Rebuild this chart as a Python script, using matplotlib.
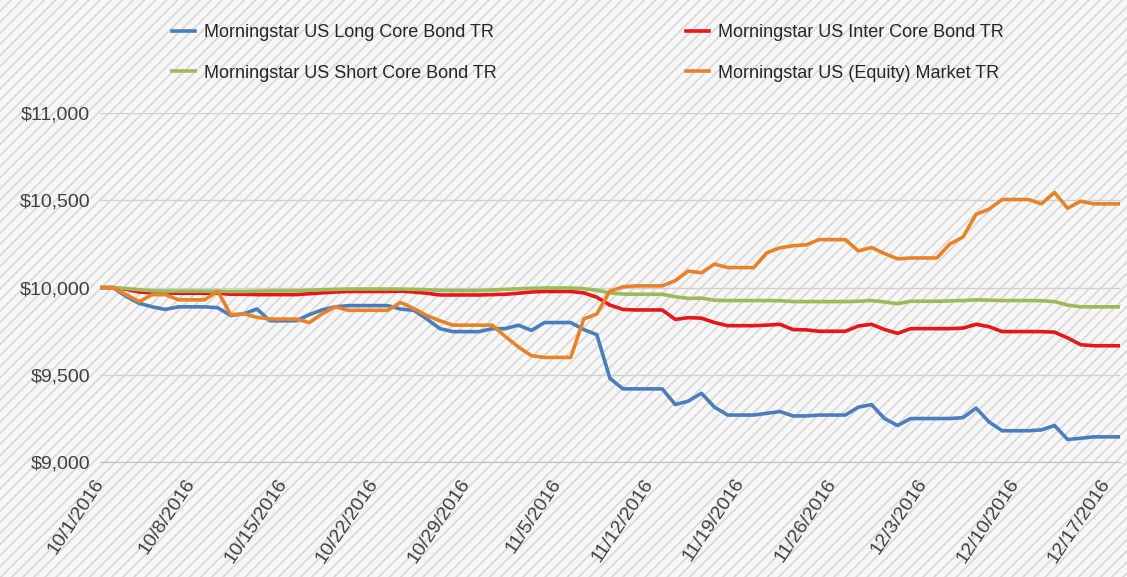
import matplotlib
matplotlib.use("Agg")
import matplotlib.pyplot as plt
from matplotlib.patches import Rectangle
from matplotlib.ticker import FuncFormatter
import pandas as pd

# daily values, 10/1/2016 .. 12/18/2016 (weekends carry Friday's value)
dates = pd.date_range("2016-10-01", "2016-12-18", freq="D")

long_core = [10000, 10000, 9950, 9910, 9890, 9875, 9890, 9890, 9890, 9885,
             9840, 9850, 9878, 9810, 9810, 9810, 9845, 9873, 9890, 9897,
             9897, 9897, 9897, 9877, 9870, 9820, 9765, 9748, 9748, 9748,
             9765, 9765, 9785, 9755, 9800, 9800, 9800, 9760, 9730, 9480,
             9420, 9420, 9420, 9420, 9330, 9350, 9395, 9315, 9270, 9270,
             9270, 9280, 9290, 9265, 9265, 9270, 9270, 9270, 9315, 9330,
             9250, 9210, 9250, 9250, 9250, 9250, 9255, 9310, 9230, 9180,
             9180, 9180, 9185, 9210, 9130, 9137, 9145, 9145, 9145]

inter_core = [10000, 10000, 9990, 9975, 9970, 9970, 9968, 9968, 9968, 9968,
              9962, 9962, 9960, 9960, 9960, 9960, 9965, 9970, 9975, 9978,
              9978, 9978, 9978, 9980, 9975, 9968, 9958, 9958, 9958, 9958,
              9960, 9962, 9968, 9975, 9978, 9978, 9978, 9970, 9945, 9900,
              9875, 9872, 9872, 9872, 9818, 9828, 9825, 9800, 9782, 9782,
              9782, 9785, 9790, 9760, 9758, 9750, 9750, 9750, 9780, 9790,
              9760, 9738, 9765, 9765, 9765, 9765, 9768, 9790, 9776, 9748,
              9748, 9748, 9748, 9745, 9712, 9673, 9667, 9667, 9667]

short_core = [10000, 10000, 9995, 9988, 9982, 9980, 9980, 9980, 9980, 9980,
              9978, 9978, 9980, 9982, 9982, 9982, 9985, 9988, 9990, 9992,
              9992, 9992, 9992, 9992, 9990, 9988, 9984, 9983, 9983, 9983,
              9986, 9990, 9993, 9996, 9998, 9998, 9998, 9994, 9985, 9970,
              9963, 9962, 9962, 9962, 9948, 9938, 9940, 9928, 9926, 9926,
              9926, 9926, 9925, 9920, 9920, 9920, 9920, 9920, 9922, 9926,
              9918, 9908, 9922, 9922, 9922, 9924, 9926, 9930, 9928, 9926,
              9926, 9926, 9925, 9920, 9900, 9890, 9890, 9890, 9890]

equity_market = [10000, 10000, 9960, 9920, 9960, 9960, 9930, 9930, 9930, 9980,
                 9845, 9850, 9830, 9820, 9820, 9820, 9800, 9850, 9890, 9870,
                 9870, 9870, 9870, 9915, 9880, 9840, 9810, 9785, 9785, 9785,
                 9785, 9720, 9660, 9610, 9600, 9600, 9600, 9820, 9850, 9980,
                 10005, 10010, 10010, 10010, 10040, 10095, 10085, 10135, 10115, 10115,
                 10115, 10200, 10228, 10240, 10245, 10275, 10275, 10275, 10210, 10230,
                 10195, 10165, 10170, 10170, 10170, 10250, 10290, 10420, 10450, 10505,
                 10505, 10505, 10480, 10545, 10455, 10495, 10480, 10480, 10480]

tick_dates = pd.date_range("2016-10-01", "2016-12-17", freq="7D")
tick_labels = [f"{d.month}/{d.day}/{d.year}" for d in tick_dates]

plt.rcParams['font.family'] = ['Liberation Sans', 'DejaVu Sans']
plt.rcParams['hatch.linewidth'] = 1.3

fig = plt.figure(figsize=(11.27, 5.77), dpi=100)
# striped background
fig.patches.append(Rectangle((0, 0), 1, 1, transform=fig.transFigure, zorder=-10,
                             facecolor='#F7F7F7', edgecolor='#D9D9D9', lw=0,
                             hatch='///'))
ax = fig.add_axes([0.0887, 0.199, 0.905, 0.605])
ax.set_facecolor('none')

lw = 2.6
l1, = ax.plot(dates, long_core, color='#4A7EBB', lw=lw, label='Morningstar US Long Core Bond TR')
l2, = ax.plot(dates, inter_core, color='#E8151B', lw=lw, label='Morningstar US Inter Core Bond TR')
l3, = ax.plot(dates, short_core, color='#9BBB59', lw=lw, label='Morningstar US Short Core Bond TR')
l4, = ax.plot(dates, equity_market, color='#E8822A', lw=lw, label='Morningstar US (Equity) Market TR')

ax.set_ylim(9000, 11000)
ax.set_yticks([9000, 9500, 10000, 10500, 11000])
ax.yaxis.set_major_formatter(FuncFormatter(lambda v, p: f"${v:,.0f}"))
ax.set_xlim(dates[0], dates[-1])
ax.set_xticks(tick_dates)
ax.set_xticklabels(tick_labels, rotation=56, ha='right', va='center',
                   rotation_mode='anchor')

ax.grid(axis='y', color='#D0D0D0', lw=1)
ax.set_axisbelow(True)
for s in ['top', 'right', 'left']:
    ax.spines[s].set_visible(False)
ax.spines['bottom'].set_color('#BFBFBF')
ax.tick_params(axis='both', length=0, labelsize=14, colors='#404040')
ax.tick_params(axis='y', pad=7)
ax.tick_params(axis='x', pad=13)

fig.legend(handles=[l1, l3, l2, l4], ncol=2, loc='upper left',
           bbox_to_anchor=(0.1526, 0.958), frameon=False, fontsize=13,
           labelcolor='#262626', handlelength=1.3, handletextpad=0.45,
           columnspacing=10.5, labelspacing=1.3, borderpad=0, borderaxespad=0)

fig.savefig("out.png", dpi=100)
